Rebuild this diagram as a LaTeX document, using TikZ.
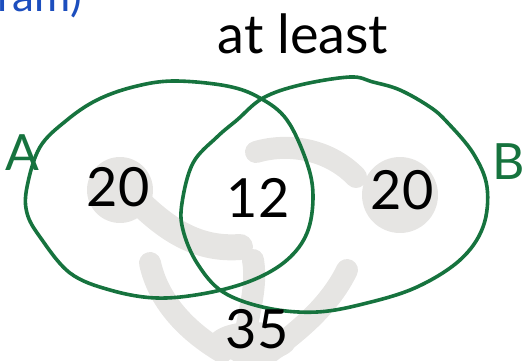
\documentclass[tikz,border=0pt]{standalone}
\usepackage{fontspec}
\setmainfont{Lato}
\usepackage{xcolor}
\usetikzlibrary{positioning}
\definecolor{vengreen}{RGB}{22, 115, 62}
\definecolor{smudge}{RGB}{230, 229, 227}
\definecolor{penblue}{RGB}{28, 78, 190}

\begin{document}
\begin{tikzpicture}[
    x=1pt, y=-1pt,
    ring/.style={draw=vengreen, line width=3.6pt, line join=round},
    hilite/.style={draw=smudge, line width=22pt, line cap=round, line join=round},
    num/.style={font=\fontsize{54}{58}\selectfont, text=black, inner sep=0pt},
    setlbl/.style={font=\fontsize{50}{54}\selectfont, text=vengreen, inner sep=0pt}
  ]
    \useasboundingbox (0,0) rectangle (529,360);

    % grey marker strokes behind the numbers
    \fill[smudge] (120,190) circle[radius=33];
    \fill[smudge] (400,195) circle[radius=38];
    \fill[smudge] (252,342) ellipse[x radius=44, y radius=20];
    \draw[hilite, line width=26pt] (140,203) .. controls (170,232) and (200,250) .. (240,247);
    \draw[hilite] (256,152) .. controls (290,142) and (330,150) .. (356,177);
    \draw[hilite] (150,263) .. controls (158,300) and (185,330) .. (222,352);
    \draw[hilite] (253,260) .. controls (258,290) and (246,320) .. (242,355);
    \draw[hilite] (347,270) .. controls (330,305) and (300,330) .. (270,352);

    % the two sets
    \draw[ring] plot[smooth cycle, tension=0.6] coordinates {
      (67,120) (97,100) (133,87) (173,81) (227,86) (260,98) (287,120)
      (307,163) (313,197) (307,233) (287,260) (253,280) (207,293)
      (157,298) (110,290) (70,273) (40,237) (27,213) (27,187) (40,147)};
    \draw[ring] plot[smooth cycle, tension=0.6] coordinates {
      (237,120) (263,98) (300,85) (350,77) (373,82) (400,90) (430,107)
      (447,122) (473,153) (487,187) (483,227) (460,260) (417,287)
      (367,303) (317,312) (267,308) (223,292) (197,263) (183,230)
      (182,203) (193,163) (217,137)};

    \node[setlbl] (lblA) at (22,153) {A};
    \node[setlbl] (lblB) at (509,162) {B};

    \node[num] (onlyA) at (118,187) {20};
    \node[num] (both) at (258,198) {12};
    \node[num] (onlyB) at (402,190) {20};
    \node[num] (neither) at (257,329) {35};

    \node[font=\fontsize{54}{58}\selectfont, inner sep=0pt] (atleast) at (303,34) {at least};
    \node[font=\fontsize{44}{48}\selectfont, text=penblue, inner sep=0pt, anchor=south east]
      (note) at (82,20) {diagram)};
  \end{tikzpicture}
\end{document}
